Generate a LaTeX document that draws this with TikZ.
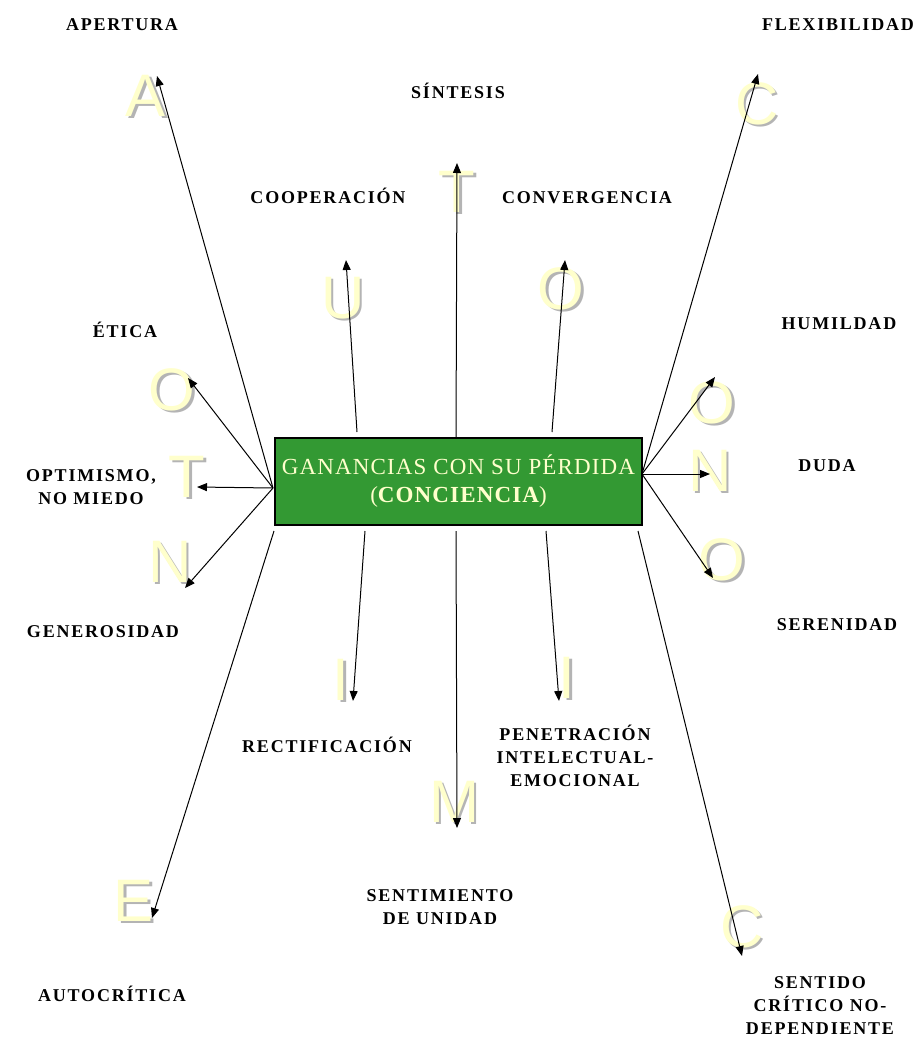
\documentclass[tikz,border=0pt]{standalone}
\usepackage{fontspec}
\setmainfont{Liberation Serif}
\newfontfamily\lblfont[LetterSpace=10]{Liberation Serif}
\newfontfamily\boxfont[LetterSpace=5]{Liberation Serif}
\newfontfamily\bigfont{Liberation Sans}
\usetikzlibrary{arrows.meta}
\definecolor{coregreen}{HTML}{339933}
\definecolor{lemon}{HTML}{FFFFCC}
\definecolor{shade}{HTML}{B4B4B4}
% letter with its grey shadow
\newcommand{\shd}[1]{\makebox[0pt][l]{\hspace{2.5pt}\raisebox{-2.5pt}{\color{shade}#1}}#1}
\tikzset{
  letter/.style={font=\bigfont\fontsize{60}{60}\selectfont, text=lemon, inner sep=0pt},
  tag/.style={font=\lblfont\bfseries\fontsize{18}{23}\selectfont, align=center, inner sep=0pt, anchor=base},
  ray/.style={line width=1pt, -{Triangle[length=10pt,width=8pt]}},
  core/.style={draw=black, line width=1.5pt, fill=coregreen, text=lemon, align=center,
    font=\boxfont\fontsize{23}{28}\selectfont, minimum width=367pt, minimum height=87pt, inner sep=0pt}
}
\begin{document}
\begin{tikzpicture}[x=1pt,y=-1pt]
    \useasboundingbox (0,0) rectangle (914,1037);
    % the big letters
    \node[letter] (lA) at (146,97) {\shd{A}};
    \node[letter] (lU) at (343,299) {\shd{U}};
    \node[letter] (lT) at (457,193) {\shd{T}};
    \node[letter] (lO) at (561,290) {\shd{O}};
    \node[letter] (lC) at (757,105) {\shd{C}};
    \node[letter] (lO2) at (172,391) {\shd{O}};
    \node[letter] (lT2) at (187,478) {\shd{T}};
    \node[letter] (lN2) at (170,563) {\shd{N}};
    \node[letter] (rO) at (712,404) {\shd{O}};
    \node[letter] (rN) at (710,472) {\shd{N}};
    \node[letter] (rO2) at (722,561) {\shd{O}};
    \node[letter] (bI) at (341,681) {\shd{I}};
    \node[letter] (bM) at (454,803) {\shd{M}};
    \node[letter] (bI2) at (567,679) {\shd{I}};
    \node[letter] (bE) at (134,902) {\shd{E}};
    \node[letter] (bC) at (742,928) {\shd{C}};

    % centre box
    \node[core] (core) at (458.5,481.5) {GANANCIAS CON SU PÉRDIDA\\({\bfseries CONCIENCIA})};

    % where the rays leave and end
    \coordinate (lhub) at (273,488);
    \coordinate (rhub) at (642,474);
    \coordinate (sU) at (357,432);
    \coordinate (sT) at (456,438);
    \coordinate (sO) at (552,432);
    \coordinate (sI) at (365,531);
    \coordinate (sM) at (456,531);
    \coordinate (sI2) at (546,531);
    \coordinate (sE) at (274,531);
    \coordinate (sC) at (638,531);
    \coordinate (tA) at (157,76);
    \coordinate (tU) at (346,260);
    \coordinate (tT) at (457,163);
    \coordinate (tO) at (565,260);
    \coordinate (tC) at (758,74);
    \coordinate (tO2) at (188,378);
    \coordinate (tT2) at (197,487);
    \coordinate (tN2) at (185,588);
    \coordinate (tO3) at (715,377);
    \coordinate (tN3) at (710,474);
    \coordinate (tO4) at (713,578);
    \coordinate (tI) at (353,701);
    \coordinate (tM) at (457,828);
    \coordinate (tI2) at (559,701);
    \coordinate (tE) at (152,918);
    \coordinate (tC2) at (742,956);

    \draw[ray] (lhub) -- (tA);
    \draw[ray] (lhub) -- (tO2);
    \draw[ray] (lhub) -- (tT2);
    \draw[ray] (lhub) -- (tN2);
    \draw[ray] (rhub) -- (tC);
    \draw[ray] (rhub) -- (tO3);
    \draw[ray] (rhub) -- (tN3);
    \draw[ray] (rhub) -- (tO4);
    \draw[ray] (sU) -- (tU);
    \draw[ray] (sT) -- (tT);
    \draw[ray] (sO) -- (tO);
    \draw[ray] (sI) -- (tI);
    \draw[ray] (sM) -- (tM);
    \draw[ray] (sI2) -- (tI2);
    \draw[ray] (sE) -- (tE);
    \draw[ray] (sC) -- (tC2);

    % the words (base = last line)
    \node[tag] (apertura) at (122,30) {APERTURA};
    \node[tag] (flex) at (838,30) {FLEXIBILIDAD};
    \node[tag] (sintesis) at (458,98) {SÍNTESIS};
    \node[tag] (coop) at (328,203) {COOPERACIÓN};
    \node[tag] (conv) at (587,203) {CONVERGENCIA};
    \node[tag] (etica) at (125,337) {ÉTICA};
    \node[tag] (humil) at (839,329) {HUMILDAD};
    \node[tag] (optim) at (91,504) {OPTIMISMO,\\NO MIEDO};
    \node[tag] (duda) at (827,471) {DUDA};
    \node[tag] (gener) at (103,637) {GENEROSIDAD};
    \node[tag] (seren) at (837,630) {SERENIDAD};
    \node[tag] (rectif) at (327,752) {RECTIFICACIÓN};
    \node[tag] (penet) at (575,786) {PENETRACIÓN\\INTELECTUAL-\\EMOCIONAL};
    \node[tag] (unidad) at (440,924) {SENTIMIENTO\\DE UNIDAD};
    \node[tag] (autocr) at (112,1001) {AUTOCRÍTICA};
    \node[tag] (sentido) at (820,1034) {SENTIDO\\CRÍTICO NO-\\DEPENDIENTE};
\end{tikzpicture}
\end{document}
